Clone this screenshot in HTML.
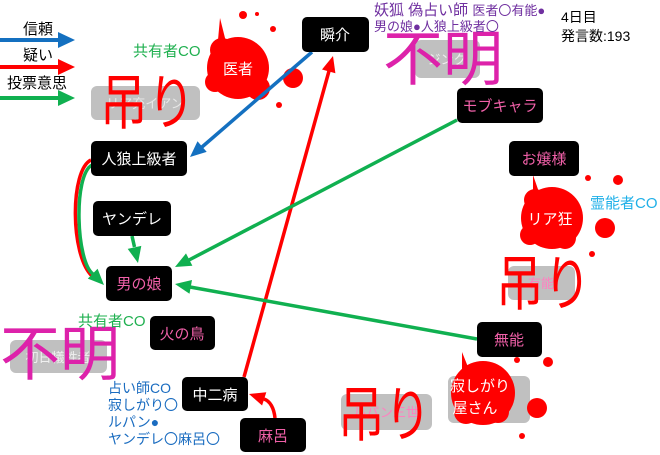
<!DOCTYPE html>
<html><head><meta charset="utf-8"><style>
body{margin:0;background:#fff}
svg{display:block}
text{font-family:"Liberation Sans","Noto Sans CJK JP",sans-serif}
</style></head><body>
<svg width="660" height="455" viewBox="0 0 660 455" xmlns="http://www.w3.org/2000/svg">

<!-- legend -->
<text x="23" y="34" font-size="15" fill="#000">信頼</text>
<line x1="0" y1="40" x2="60" y2="40" stroke="#1470c0" stroke-width="4"/><path d="M58,32 L75,40 L58,48 Z" fill="#1470c0"/>
<text x="23" y="60" font-size="15" fill="#000">疑い</text>
<line x1="0" y1="67" x2="60" y2="67" stroke="#ff0000" stroke-width="4"/><path d="M58,59 L75,67 L58,75 Z" fill="#ff0000"/>
<text x="7" y="88" font-size="15" fill="#000">投票意思</text>
<line x1="0" y1="98" x2="60" y2="98" stroke="#10b050" stroke-width="4"/><path d="M58,90 L75,98 L58,106 Z" fill="#10b050"/>

<!-- gray dead boxes -->
<rect x="91" y="86" width="109" height="34" rx="6" fill="#c0c0c0"/>
<text x="145" y="108" font-size="13" fill="#e8e8e8" text-anchor="middle">リア充イアン</text>
<rect x="415" y="40" width="65" height="38" rx="6" fill="#c0c0c0"/>
<text x="447" y="64" font-size="13" fill="#f0f0f0" text-anchor="middle">ジンク</text>
<rect x="10" y="340" width="97" height="33" rx="6" fill="#c0c0c0"/>
<text x="58" y="362" font-size="13" fill="#f0f0f0" text-anchor="middle">初日犠牲者</text>
<rect x="508" y="266" width="67" height="34" rx="6" fill="#c0c0c0"/>
<text x="541" y="288" font-size="13" fill="#ff80c0" text-anchor="middle">有能</text>
<rect x="341" y="394" width="91" height="36" rx="6" fill="#c0c0c0"/>
<text x="386" y="417" font-size="13" fill="#ff80c0" text-anchor="middle">ルパン三世</text>
<rect x="448" y="376" width="82" height="47" rx="6" fill="#c0c0c0"/>

<!-- splats -->
<g fill="#ff0000">
<circle cx="238" cy="68" r="31"/><circle cx="222" cy="50" r="12"/><circle cx="258" cy="88" r="12"/><circle cx="215" cy="82" r="10"/>
<path d="M218,40 L220,18 L226,42 Z"/>
<circle cx="293" cy="78" r="10"/><circle cx="243" cy="15" r="4"/><circle cx="257" cy="14" r="2"/><circle cx="273" cy="29" r="3"/><circle cx="279" cy="105" r="3"/>
<circle cx="552" cy="218" r="31"/><circle cx="535" cy="200" r="11"/><circle cx="565" cy="238" r="11"/><circle cx="530" cy="235" r="10"/>
<path d="M533,192 L533,175 L540,195 Z"/>
<circle cx="605" cy="228" r="10"/><circle cx="618" cy="180" r="5"/><circle cx="588" cy="178" r="3"/><circle cx="592" cy="254" r="3"/>
<circle cx="483" cy="393" r="32"/><circle cx="466" cy="412" r="12"/><circle cx="498" cy="412" r="11"/><circle cx="470" cy="375" r="10"/>
<path d="M462,370 L462,352 L470,372 Z"/>
<circle cx="537" cy="408" r="10"/><circle cx="548" cy="362" r="5"/><circle cx="517" cy="360" r="3"/><circle cx="522" cy="436" r="3"/>
</g>
<text x="238" y="74" font-size="15" fill="#fff" text-anchor="middle">医者</text>
<text x="550" y="224" font-size="15" fill="#fff" text-anchor="middle">リア狂</text>
<text x="480" y="391" font-size="15" fill="#fff" text-anchor="middle">寂しがり</text>
<text x="475" y="413" font-size="15" fill="#fff" text-anchor="middle">屋さん</text>

<!-- connectors -->
<line x1="312" y1="52" x2="202" y2="147" stroke="#1470c0" stroke-width="3.5"/>
<path d="M190,157 L206.7,151.9 L197.5,141.3 Z" fill="#1470c0"/>
<line x1="244" y1="377" x2="329" y2="71" stroke="#ff0000" stroke-width="3.5"/>
<path d="M333,56 L335.4,73.3 L322,69.5 Z" fill="#ff0000"/>
<path d="M91,160 C70,170 70,255 92,276" fill="none" stroke="#ff0000" stroke-width="3.5"/>
<path d="M92,165 C73,175 76,262 93,274" fill="none" stroke="#10b050" stroke-width="3.5"/>
<path d="M104,285 L97.6,268.8 L87.8,278.6 Z" fill="#10b050"/>
<line x1="132" y1="236" x2="134.5" y2="247" stroke="#10b050" stroke-width="3.5"/>
<path d="M138,263 L141.3,245.9 L127.7,248.9 Z" fill="#10b050"/>
<line x1="457" y1="120" x2="189" y2="260" stroke="#10b050" stroke-width="3.5"/>
<path d="M175,267 L192.4,265.8 L186,253.4 Z" fill="#10b050"/>
<line x1="477" y1="339" x2="190" y2="287" stroke="#10b050" stroke-width="3.5"/>
<path d="M175,284 L189.5,293.8 L192,280 Z" fill="#10b050"/>
<path d="M275,418 C274,408 270,401 264,399" fill="none" stroke="#ff0000" stroke-width="3.5"/>
<path d="M249,394 L266.3,392.2 L262.1,405.5 Z" fill="#ff0000"/>

<!-- nodes -->
<g>
<rect x="302" y="17" width="67" height="35" rx="5" fill="#000"/><text x="335" y="40" font-size="15" fill="#fff" text-anchor="middle">瞬介</text>
<rect x="91" y="141" width="96" height="35" rx="5" fill="#000"/><text x="139" y="164" font-size="15" fill="#fff" text-anchor="middle">人狼上級者</text>
<rect x="93" y="201" width="78" height="35" rx="5" fill="#000"/><text x="132" y="224" font-size="15" fill="#fff" text-anchor="middle">ヤンデレ</text>
<rect x="106" y="266" width="66" height="35" rx="5" fill="#000"/><text x="139" y="289" font-size="15" fill="#f060a8" text-anchor="middle">男の娘</text>
<rect x="150" y="316" width="65" height="34" rx="5" fill="#000"/><text x="182" y="339" font-size="15" fill="#f060a8" text-anchor="middle">火の鳥</text>
<rect x="182" y="377" width="66" height="34" rx="5" fill="#000"/><text x="215" y="400" font-size="15" fill="#fff" text-anchor="middle">中二病</text>
<rect x="240" y="418" width="66" height="34" rx="5" fill="#000"/><text x="273" y="441" font-size="15" fill="#f060a8" text-anchor="middle">麻呂</text>
<rect x="457" y="88" width="86" height="35" rx="5" fill="#000"/><text x="500" y="111" font-size="15" fill="#f060a8" text-anchor="middle">モブキャラ</text>
<rect x="509" y="141" width="70" height="35" rx="5" fill="#000"/><text x="544" y="164" font-size="15" fill="#f060a8" text-anchor="middle">お嬢様</text>
<rect x="477" y="322" width="65" height="35" rx="5" fill="#000"/><text x="509" y="345" font-size="15" fill="#f060a8" text-anchor="middle">無能</text>
</g>

<!-- big labels -->
<text x="100" y="124" font-size="60" fill="#ff0000" textLength="95" lengthAdjust="spacingAndGlyphs">吊り</text>
<text x="496" y="305" font-size="60" fill="#ff0000" textLength="95" lengthAdjust="spacingAndGlyphs">吊り</text>
<text x="338" y="436" font-size="60" fill="#ff0000" textLength="93" lengthAdjust="spacingAndGlyphs">吊り</text>
<text x="383" y="80" font-size="60" fill="#dd22aa">不明</text>
<text x="0" y="375" font-size="60" fill="#dd22aa">不明</text>

<!-- annotations -->
<text x="133" y="56" font-size="15" fill="#20b050">共有者CO</text>
<text x="78" y="326" font-size="15" fill="#20b050">共有者CO</text>
<text x="590" y="208" font-size="15" fill="#20b0e8">霊能者CO</text>
<g font-size="14" fill="#1a6cc0">
<text x="108" y="393">占い師CO</text>
<text x="108" y="410">寂しがり〇</text>
<text x="108" y="427">ルパン●</text>
<text x="108" y="444">ヤンデレ〇麻呂〇</text>
</g>
<text x="374" y="15" font-size="15" fill="#7030a0">妖狐 偽占い師 <tspan font-size="13">医者〇有能●</tspan></text>
<text x="374" y="31" font-size="13" fill="#7030a0">男の娘●人狼上級者〇</text>
<text x="561" y="22" font-size="14" fill="#000">4日目</text>
<text x="561" y="41" font-size="14" fill="#000">発言数:193</text>
</svg>
</body></html>
